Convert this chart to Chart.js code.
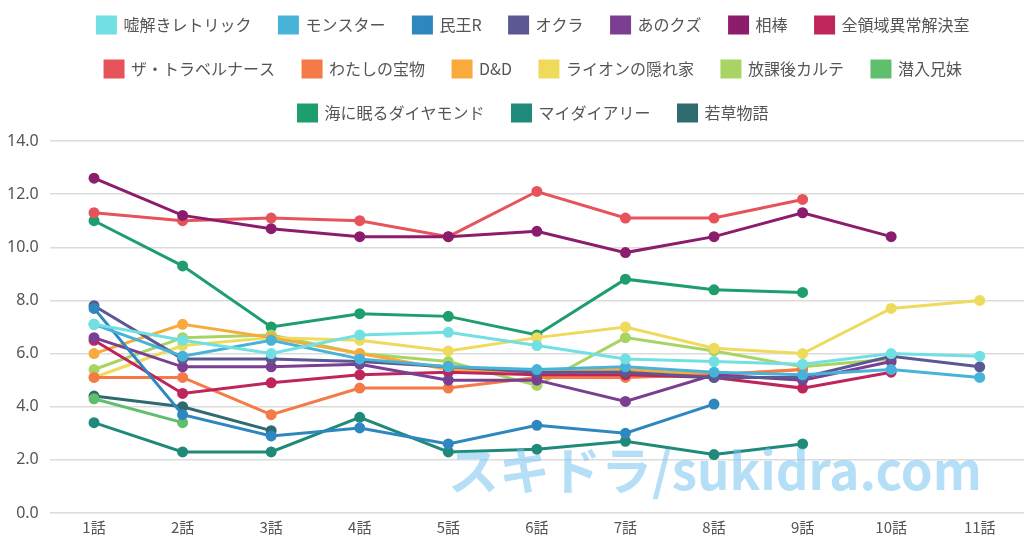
<!DOCTYPE html>
<html><head><meta charset="utf-8">
<script src="https://cdn.jsdelivr.net/npm/chart.js@4"></script>
<style>
html,body{margin:0;padding:0;background:#fff;overflow:hidden;}
#wrap{position:relative;width:1024px;height:538px;overflow:hidden;}
#cv{position:absolute;left:0;top:-11px;width:1031px;height:553px;}
#wm{position:absolute;left:448px;top:431px;font-family:"Noto Sans CJK JP",sans-serif;font-weight:700;font-size:51px;color:rgba(120,195,240,0.55);white-space:nowrap;pointer-events:none;}
</style></head>
<body>
<div id="wrap"><div id="cv"><canvas id="c"></canvas></div><div id="wm">スキドラ/sukidra.com</div></div>
<script>
const labels = ['1話','2話','3話','4話','5話','6話','7話','8話','9話','10話','11話'];
const names = ['嘘解きレトリック','モンスター','民王R','オクラ','あのクズ','相棒','全領域異常解決室','ザ・トラベルナース','わたしの宝物','D&D','ライオンの隠れ家','放課後カルテ','潜入兄妹','海に眠るダイヤモンド','マイダイアリー','若草物語'];
const usotoki   = [7.1, 6.5, 6.0, 6.7, 6.8, 6.3, 5.8, 5.7, 5.6, 6.0, 5.9];
const monster   = [7.1, 5.9, 6.5, 5.8, 5.5, 5.4, 5.5, 5.3, 5.2, 5.4, 5.1];
const tamiou    = [7.7, 3.7, 2.9, 3.2, 2.6, 3.3, 3.0, 4.1];
const okura     = [7.8, 5.8, 5.8, 5.7, 5.5, 5.3, 5.3, 5.1, 5.1, 5.9, 5.5];
const anokuzu   = [6.6, 5.5, 5.5, 5.6, 5.0, 5.0, 4.2, 5.2, 5.0, 5.7];
const aibou     = [12.6, 11.2, 10.7, 10.4, 10.4, 10.6, 9.8, 10.4, 11.3, 10.4];
const zenryoiki = [6.5, 4.5, 4.9, 5.2, 5.3, 5.2, 5.2, 5.1, 4.7, 5.3];
const travel    = [11.3, 11.0, 11.1, 11.0, 10.4, 12.1, 11.1, 11.1, 11.8];
const takaramono= [5.1, 5.1, 3.7, 4.7, 4.7, 5.1, 5.1, 5.2, 5.4];
const dd        = [6.0, 7.1, 6.6, 6.0, 5.4, 5.3, 5.4, 5.2, 5.4];
const lion      = [5.1, 6.3, 6.6, 6.5, 6.1, 6.6, 7.0, 6.2, 6.0, 7.7, 8.0];
const karte     = [5.4, 6.6, 6.7, 6.0, 5.7, 4.8, 6.6, 6.1, 5.5, 5.8];
const sennyu    = [4.3, 3.4];
const umini     = [11.0, 9.3, 7.0, 7.5, 7.4, 6.7, 8.8, 8.4, 8.3];
const mydiary   = [3.4, 2.3, 2.3, 3.6, 2.3, 2.4, 2.7, 2.2, 2.6];
const wakakusa  = [4.4, 4.0, 3.1];
const yTicks = [0, 2, 4, 6, 8, 10, 12, 14];

const values = [usotoki, monster, tamiou, okura, anokuzu, aibou, zenryoiki, travel, takaramono, dd, lion, karte, sennyu, umini, mydiary, wakakusa];
const colors = ['#72e0e3','#47b3d8','#2f87bf','#5c5893','#7a3f91','#8b1d6c','#bf255c','#e6535b','#f47a48','#f8ab3b','#efda5c','#a8d464','#5fbf6c','#1f9e6d','#208a7a','#2e6a70'];

Chart.defaults.font.family = '"Noto Sans CJK JP", "Noto Sans", sans-serif';
Chart.defaults.color = '#666';

const datasets = names.map((n, i) => ({
  label: n,
  data: values[i],
  borderColor: colors[i],
  backgroundColor: colors[i],
  pointBackgroundColor: colors[i],
  pointBorderColor: colors[i],
  borderWidth: 3,
  pointRadius: 4,
  tension: 0,
  fill: false
}));

const legendTweak = {
  id: 'legendTweak',
  beforeInit(chart) {
    const orig = chart.legend.fit;
    chart.legend.fit = function () { orig.call(this); this.height += 10; };
  },
  afterLayout(chart) {
    chart.legend.left += 20;
    chart.legend.right += 20;
  }
};

new Chart(document.getElementById('c'), {
  type: 'line',
  data: { labels, datasets },
  plugins: [legendTweak],
  options: {
    responsive: true,
    maintainAspectRatio: false,
    animation: false,
    layout: { padding: { left: -4, right: 0, top: 0, bottom: 1 } },
    plugins: {
      legend: {
        position: 'top',
        labels: { boxWidth: 18, boxHeight: 16, padding: 28, font: { size: 16 }, color: '#555' }
      },
      tooltip: { enabled: false }
    },
    scales: {
      x: {
        offset: true,
        grid: { display: false, drawTicks: false },
        border: { display: false },
        ticks: { font: { size: 15 }, color: '#555', padding: 5 }
      },
      y: {
        min: 0, max: 14,
        afterBuildTicks: (axis) => { axis.ticks = yTicks.map(v => ({ value: v })); },
        grid: { color: '#dcdcdc', drawTicks: false, lineWidth: 1.5 },
        border: { display: false },
        ticks: { font: { family: '"Noto Sans", sans-serif', size: 16 }, color: '#555', padding: 11, callback: (v) => Number(v).toFixed(1) }
      }
    }
  }
});
</script>
</body></html>
